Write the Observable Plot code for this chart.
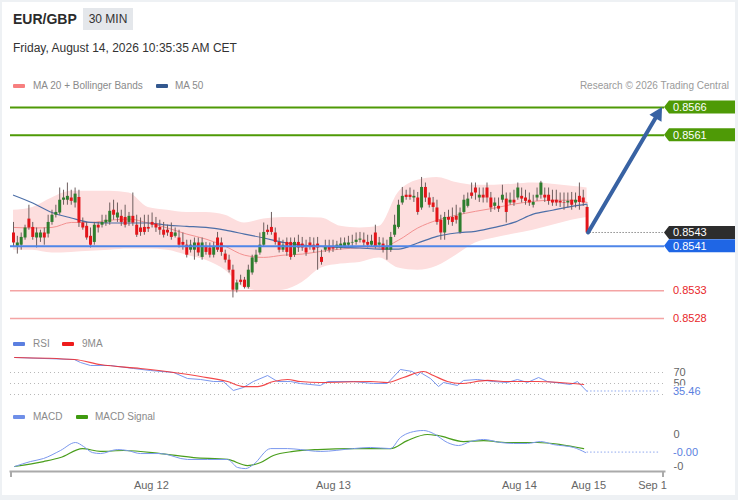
<!DOCTYPE html>
<html><head><meta charset="utf-8">
<script src="https://cdn.jsdelivr.net/npm/d3@7"></script>
<script src="https://cdn.jsdelivr.net/npm/@observablehq/plot@0.6"></script>
<style>
body{margin:0;background:#eef1f4;font-family:"Liberation Sans",Arial,sans-serif;}
#root{position:relative;width:738px;height:500px;overflow:hidden;background:#eef1f4;}
#panel{position:absolute;left:2px;top:2px;width:733px;height:493px;background:#fff;}
.abs{position:absolute;white-space:nowrap;}
.title{left:13px;top:10px;font-size:14px;font-weight:bold;color:#2b2b2b;line-height:18px;}
.tf{left:83px;top:8px;width:50px;height:22px;line-height:22px;text-align:center;background:#e4e7eb;font-size:12px;color:#333;}
.date{left:13px;top:40px;font-size:12px;color:#333;line-height:16px;}
.lg{font-size:10px;color:#8a8a8a;line-height:13px;}
.sw{position:absolute;width:12px;height:4px;border-radius:1px;}
.credit{right:9px;top:79px;font-size:10px;color:#9a9a9a;line-height:13px;}
.pane{position:absolute;left:0;}
</style></head>
<body>
<div id="root">
  <div id="panel"></div>
  <div class="abs title">EUR/GBP</div>
  <div class="abs tf">30 MIN</div>
  <div class="abs date">Friday, August 14, 2026 10:35:35 AM CET</div>
  <div class="sw" style="left:13px;top:84px;background:#f77f7f"></div>
  <div class="abs lg" style="left:33px;top:79px">MA 20 + Bollinger Bands</div>
  <div class="sw" style="left:156px;top:84px;background:#33588f"></div>
  <div class="abs lg" style="left:175px;top:79px">MA 50</div>
  <div class="abs credit">Research © 2026 Trading Central</div>
  <div id="main" class="pane" style="top:95px"></div>
  <div class="sw" style="left:13px;top:342px;background:#5b7fe0"></div>
  <div class="abs lg" style="left:33px;top:337px">RSI</div>
  <div class="sw" style="left:62px;top:342px;background:#ee1c1c"></div>
  <div class="abs lg" style="left:82px;top:337px">9MA</div>
  <div id="rsi" class="pane" style="top:350px"></div>
  <div class="sw" style="left:13px;top:415px;background:#6f8fe8"></div>
  <div class="abs lg" style="left:33px;top:410px">MACD</div>
  <div class="sw" style="left:76px;top:415px;background:#3f9a10"></div>
  <div class="abs lg" style="left:95px;top:410px">MACD Signal</div>
  <div id="macd" class="pane" style="top:423px"></div>
</div>
<script>
// ---------- data: 30-min candles (index 0..149) ----------
const open = [
0.85434,0.85410,0.85412,0.85425,0.85459,0.85444,0.85425,0.85425,0.85434,0.85432,
0.85453,0.85466,0.85470,0.85493,0.85493,0.85497,0.85488,0.85498,0.85452,0.85446,
0.85428,0.85417,0.85448,0.85448,0.85452,0.85453,0.85475,0.85461,0.85464,0.85462,
0.85453,0.85464,0.85448,0.85443,0.85444,0.85444,0.85453,0.85450,0.85444,0.85439,
0.85439,0.85435,0.85428,0.85425,0.85417,0.85412,0.85403,0.85403,0.85416,0.85390,
0.85408,0.85407,0.85394,0.85425,0.85416,0.85396,0.85385,0.85367,0.85331,0.85349,
0.85349,0.85336,0.85362,0.85381,0.85398,0.85412,0.85439,0.85444,0.85434,0.85417,
0.85403,0.85417,0.85417,0.85394,0.85417,0.85414,0.85407,0.85416,0.85412,0.85414,
0.85390,0.85403,0.85410,0.85410,0.85407,0.85407,0.85410,0.85412,0.85416,0.85417,
0.85421,0.85421,0.85417,0.85412,0.85434,0.85412,0.85414,0.85403,0.85403,0.85430,
0.85444,0.85488,0.85502,0.85502,0.85497,0.85497,0.85479,0.85516,0.85497,0.85488,
0.85479,0.85457,0.85434,0.85462,0.85462,0.85464,0.85435,0.85471,0.85482,0.85506,
0.85515,0.85497,0.85502,0.85515,0.85497,0.85482,0.85482,0.85493,0.85495,0.85488,
0.85493,0.85497,0.85500,0.85497,0.85493,0.85484,0.85497,0.85502,0.85502,0.85502,
0.85493,0.85493,0.85491,0.85489,0.85488,0.85493,0.85488,0.85500,0.85497,0.85480];
const close = [
0.85416,0.85416,0.85426,0.85443,0.85443,0.85426,0.85434,0.85434,0.85425,0.85453,
0.85466,0.85471,0.85493,0.85497,0.85500,0.85491,0.85504,0.85452,0.85443,0.85425,
0.85412,0.85448,0.85443,0.85453,0.85457,0.85473,0.85466,0.85470,0.85453,0.85448,
0.85464,0.85452,0.85430,0.85435,0.85435,0.85441,0.85448,0.85443,0.85439,0.85430,
0.85434,0.85426,0.85434,0.85412,0.85412,0.85394,0.85412,0.85416,0.85398,0.85416,
0.85399,0.85394,0.85408,0.85403,0.85399,0.85385,0.85367,0.85331,0.85344,0.85345,
0.85336,0.85367,0.85389,0.85394,0.85412,0.85435,0.85435,0.85435,0.85417,0.85403,
0.85412,0.85399,0.85390,0.85417,0.85407,0.85407,0.85398,0.85408,0.85403,0.85407,
0.85381,0.85410,0.85403,0.85405,0.85412,0.85414,0.85416,0.85416,0.85417,0.85421,
0.85423,0.85416,0.85412,0.85419,0.85408,0.85416,0.85403,0.85410,0.85426,0.85448,
0.85484,0.85500,0.85498,0.85498,0.85500,0.85471,0.85516,0.85497,0.85484,0.85480,
0.85453,0.85434,0.85462,0.85457,0.85453,0.85457,0.85470,0.85493,0.85495,0.85500,
0.85506,0.85502,0.85497,0.85497,0.85479,0.85488,0.85477,0.85502,0.85471,0.85493,
0.85488,0.85515,0.85495,0.85491,0.85488,0.85489,0.85502,0.85524,0.85497,0.85491,
0.85488,0.85488,0.85488,0.85488,0.85491,0.85484,0.85493,0.85489,0.85488,0.85434];
const high = [
0.85453,0.85428,0.85434,0.85448,0.85484,0.85453,0.85443,0.85439,0.85443,0.85466,
0.85475,0.85484,0.85515,0.85511,0.85524,0.85511,0.85515,0.85511,0.85461,0.85453,
0.85443,0.85453,0.85453,0.85466,0.85466,0.85488,0.85493,0.85488,0.85475,0.85484,
0.85471,0.85506,0.85466,0.85461,0.85466,0.85466,0.85470,0.85462,0.85457,0.85453,
0.85448,0.85452,0.85443,0.85439,0.85434,0.85421,0.85421,0.85425,0.85425,0.85425,
0.85417,0.85416,0.85417,0.85435,0.85425,0.85403,0.85394,0.85376,0.85349,0.85358,
0.85354,0.85376,0.85394,0.85403,0.85434,0.85452,0.85448,0.85471,0.85443,0.85425,
0.85421,0.85425,0.85425,0.85425,0.85430,0.85426,0.85421,0.85426,0.85425,0.85426,
0.85403,0.85421,0.85421,0.85421,0.85419,0.85425,0.85425,0.85428,0.85430,0.85434,
0.85435,0.85434,0.85430,0.85430,0.85448,0.85426,0.85425,0.85421,0.85435,0.85466,
0.85493,0.85516,0.85511,0.85515,0.85511,0.85507,0.85534,0.85524,0.85506,0.85498,
0.85493,0.85466,0.85471,0.85475,0.85479,0.85484,0.85479,0.85502,0.85506,0.85524,
0.85524,0.85515,0.85515,0.85524,0.85507,0.85497,0.85497,0.85520,0.85506,0.85506,
0.85511,0.85524,0.85515,0.85511,0.85506,0.85502,0.85515,0.85527,0.85515,0.85515,
0.85511,0.85511,0.85506,0.85506,0.85506,0.85507,0.85506,0.85524,0.85511,0.85484];
const low = [
0.85408,0.85396,0.85403,0.85421,0.85439,0.85421,0.85407,0.85417,0.85412,0.85425,
0.85448,0.85461,0.85466,0.85484,0.85484,0.85484,0.85479,0.85444,0.85439,0.85421,
0.85407,0.85412,0.85434,0.85443,0.85446,0.85448,0.85457,0.85453,0.85446,0.85443,
0.85446,0.85446,0.85426,0.85428,0.85430,0.85435,0.85443,0.85435,0.85430,0.85425,
0.85428,0.85421,0.85425,0.85407,0.85403,0.85389,0.85398,0.85385,0.85392,0.85385,
0.85394,0.85389,0.85389,0.85399,0.85392,0.85380,0.85362,0.85317,0.85326,0.85340,
0.85333,0.85333,0.85358,0.85378,0.85394,0.85408,0.85430,0.85430,0.85412,0.85398,
0.85399,0.85392,0.85385,0.85390,0.85399,0.85401,0.85392,0.85403,0.85398,0.85367,
0.85376,0.85399,0.85398,0.85399,0.85403,0.85403,0.85407,0.85408,0.85410,0.85412,
0.85416,0.85410,0.85407,0.85408,0.85405,0.85407,0.85398,0.85385,0.85399,0.85426,
0.85441,0.85484,0.85493,0.85493,0.85489,0.85466,0.85475,0.85489,0.85479,0.85471,
0.85448,0.85421,0.85421,0.85448,0.85446,0.85450,0.85432,0.85468,0.85479,0.85495,
0.85493,0.85489,0.85488,0.85488,0.85471,0.85475,0.85471,0.85488,0.85452,0.85484,
0.85482,0.85493,0.85488,0.85484,0.85482,0.85479,0.85491,0.85495,0.85489,0.85484,
0.85482,0.85482,0.85480,0.85475,0.85479,0.85475,0.85479,0.85475,0.85482,0.85432];

// moving averages and Bollinger bands, read at candle indices
const bandIdx = [0,5,10,15,20,25,30,35,40,45,50,55,60,65,70,75,80,85,90,95,100,105,110,115,120,125,130,135,140,145,149];
const ma20 = [0.85444,0.85443,0.85444,0.85453,0.85453,0.85457,0.85459,0.85452,0.85443,0.85432,0.85423,0.85410,0.85394,0.85390,0.85394,0.85396,0.85401,0.85405,0.85407,0.85407,0.85421,0.85443,0.85457,0.85466,0.85473,0.85479,0.85486,0.85491,0.85493,0.85493,0.85489];
const ma50 = [0.85502,0.85488,0.85471,0.85461,0.85453,0.85452,0.85452,0.85452,0.85448,0.85446,0.85444,0.85439,0.85432,0.85425,0.85417,0.85412,0.85410,0.85408,0.85407,0.85405,0.85405,0.85416,0.85428,0.85434,0.85437,0.85444,0.85453,0.85468,0.85475,0.85482,0.85486];
const bbUpper = [0.85475,0.85480,0.85497,0.85509,0.85509,0.85509,0.85506,0.85480,0.85475,0.85471,0.85471,0.85466,0.85452,0.85459,0.85462,0.85462,0.85461,0.85446,0.85443,0.85446,0.85507,0.85529,0.85534,0.85525,0.85520,0.85520,0.85522,0.85524,0.85522,0.85518,0.85515];
const bbLower = [0.85403,0.85403,0.85398,0.85399,0.85401,0.85403,0.85405,0.85405,0.85403,0.85394,0.85385,0.85367,0.85335,0.85329,0.85331,0.85345,0.85371,0.85378,0.85381,0.85389,0.85371,0.85367,0.85374,0.85394,0.85416,0.85425,0.85432,0.85439,0.85448,0.85457,0.85462];

// key levels
const resistance = [0.8566, 0.8561];
const pivot = 0.8541;
const support = [0.8533, 0.8528];
const arrowTarget = {i: 168.6, price: 0.8566};

// RSI (14) and its 9-period MA
const rsiX = [0.3,15.8,17.4,20,25.2,31.2,35.6,41.6,45.2,48.6,52,54.5,57.1,59.7,62.3,66,68.6,72,74.5,79.7,81.6,88.3,93.5,97.1,100.5,103.6,104.9,105.7,108.3,110.4,111.7,115.3,116.9,120.5,124.7,128.3,130.9,133.5,136.4,138.7,144.7,146.5,149];
const rsiV = [97.3,93.6,88.2,82.7,82.7,77.3,73.6,70,59.1,57.3,53.6,53.6,37.3,42.7,53.6,64.5,53.6,53.6,50,46.4,53.6,53.6,50,50,75.5,71.8,64.5,70,59.1,44.5,51.8,46.4,55.5,57.3,53.6,51.8,57.3,51.8,60.9,53.6,48.2,53.6,35.46];
const rsiMaX = [0.3,15.8,22.6,33,41.6,48.6,55.6,59.7,63.4,67.5,71.2,74.5,79.7,92.7,97.1,101.3,106.5,109.1,112.7,116.1,123.1,128.3,136.1,148.1];
const rsiMaV = [97.3,93.6,84.5,77.3,70,62.7,53.6,44.5,44.5,53.6,57.3,53.6,51.8,53.6,51.8,60.9,71.8,64.5,53.6,50,55.5,53.6,53.6,48.2];
const rsiLevels = [70, 50, 30];
const rsiLabels = [70, 50];

// MACD and signal
const macdX = [0.3,4.4,7.8,12.2,16.1,18.2,20.5,22.6,27,29.6,33,38.2,45.2,50.4,55.6,58.2,60.3,62.3,66.8,71.2,74.5,79.7,88.3,92.7,97.9,100.5,103.1,106.5,109.1,112.7,115.6,118.7,122.1,126.5,129.9,133.5,136.9,140.3,145.5,148.6];
const macdV = [-0.000200,-0.000169,-0.000150,-0.000100,-0.000050,-0.000075,-0.000113,-0.000119,-0.000094,-0.000100,-0.000119,-0.000119,-0.000156,-0.000156,-0.000156,-0.000206,-0.000213,-0.000188,-0.000088,-0.000088,-0.000094,-0.000106,-0.000088,-0.000081,-0.000088,-0.000019,0.000013,0.000025,0.000006,-0.000050,-0.000069,-0.000044,-0.000031,-0.000050,-0.000056,-0.000056,-0.000044,-0.000063,-0.000081,-0.000113];
const sigX = [0.3,7.8,12.2,17.9,22.6,28.6,38.2,46.8,55.6,60.8,64.2,67.5,72.7,79,88.3,97.9,102.3,107.5,110.1,116.9,122.1,128.3,136.1,142.1,148.1];
const sigV = [-0.000200,-0.000169,-0.000144,-0.000088,-0.000106,-0.000100,-0.000119,-0.000144,-0.000156,-0.000194,-0.000175,-0.000131,-0.000106,-0.000094,-0.000088,-0.000088,-0.000038,0,-0.000006,-0.000044,-0.000038,-0.000050,-0.000050,-0.000063,-0.000088];
const macdTicks = [0, -0.0002];

// time axis
const tickIdx = [35.8, 83.1, 131.4, 149.4, 166];
const tickLabels = ["Aug 12", "Aug 13", "Aug 14", "Aug 15", "Sep 1"];

// ---------- build ----------
const N = close.length;
const candles = d3.range(N).map(i => ({i, open: open[i], close: close[i], high: high[i], low: low[i]}));
const bands = bandIdx.map((i, k) => ({i, ma20: ma20[k], ma50: ma50[k], up: bbUpper[k], lo: bbLower[k]}));
const rsi = rsiX.map((x, k) => ({x, v: rsiV[k]}));
const rsiMa = rsiMaX.map((x, k) => ({x, v: rsiMaV[k]}));
const macd = macdX.map((x, k) => ({x, v: macdV[k]}));
const sig = sigX.map((x, k) => ({x, v: sigV[k]}));
const lastClose = close[N - 1];

const FONT = '"Liberation Sans", Arial, sans-serif';
const common = {
  width: 738, marginLeft: 10, marginRight: 74, marginTop: 0,
  style: {fontFamily: FONT, fontSize: "11px", color: "#666", background: "transparent", overflow: "visible"}
};
const xScale = {type: "linear", domain: [0, N - 1], range: [13, 586.6]};

const GREEN = "#4e9a06", BLUE = "#4f86e8", BLUEBOX = "#1f66e5", RED = "#e8262a";

function priceTags(index, scales, values, dims) {
  const g = d3.create("svg:g").attr("font-family", FONT).attr("font-size", 11).attr("text-anchor", "start");
  const xr = dims.width - dims.marginRight;
  const y = scales.y;
  // dotted line from last candle to the price tag
  const ly = y(lastClose);
  g.append("line").attr("x1", scales.x(N - 1) + 3).attr("x2", xr).attr("y1", ly).attr("y2", ly)
    .attr("stroke", "#555").attr("stroke-dasharray", "1,2");
  // forecast arrow
  const x0 = scales.x(N - 1) + 1.5, y0 = ly;
  const x1 = scales.x(arrowTarget.i), y1 = y(arrowTarget.price);
  const dx = x1 - x0, dy = y1 - y0, L = Math.hypot(dx, dy), ux = dx / L, uy = dy / L;
  const hl = 13, hw = 7;
  const bx = x1 - ux * hl, by = y1 - uy * hl;
  g.append("line").attr("x1", x0).attr("y1", y0).attr("x2", bx + ux).attr("y2", by + uy)
    .attr("stroke", "#3862a3").attr("stroke-width", 4).attr("stroke-linecap", "round");
  g.append("path").attr("d", `M${x1},${y1}L${bx - uy * hw},${by + ux * hw}L${bx + uy * hw},${by - ux * hw}Z`).attr("fill", "#3862a3");
  const tag = (v, box, fg) => {
    const ty = y(v);
    if (box) g.append("path").attr("d", `M${xr},${ty}L${xr + 5},${ty - 6.5}H${xr + 71}V${ty + 6.5}H${xr + 5}Z`).attr("fill", box);
    g.append("text").attr("x", xr + 9).attr("y", ty).attr("dy", "0.35em").attr("fill", fg).text(v.toFixed(4));
  };
  resistance.forEach(v => tag(v, GREEN, "#fff"));
  support.forEach(v => tag(v, null, RED));
  tag(pivot, BLUEBOX, "#fff");
  tag(lastClose, "#2d2d2d", "#fff");
  return g.node();
}

const mainPlot = Plot.plot({
  ...common, height: 240, marginBottom: 0,
  x: {...xScale, axis: null},
  y: {domain: [0.8528, 0.8566], range: [223, 12], axis: null},
  color: {type: "identity"},
  marks: [
    Plot.areaY(bands, {x: "i", y1: "lo", y2: "up", fill: "#fddede", curve: "monotone-x"}),
    Plot.lineY(bands, {x: "i", y: "ma20", stroke: "#f39191", strokeWidth: 1, curve: "monotone-x"}),
    Plot.lineY(bands, {x: "i", y: "ma50", stroke: "#4d6fa8", strokeWidth: 1.2, curve: "monotone-x"}),
    Plot.ruleY(support, {stroke: "#f4a4a4", strokeWidth: 1.5}),
    Plot.ruleY(resistance, {stroke: GREEN, strokeWidth: 2}),
    Plot.ruleX(candles, {x: "i", y1: "low", y2: "high", stroke: "#6e5e5e", strokeWidth: 1}),
    Plot.ruleX(candles, {x: "i", y1: "open", y2: "close", strokeWidth: 3,
      stroke: d => d.close > d.open ? "#2e7d2e" : "#e3151a"}),
    Plot.ruleY([pivot], {stroke: BLUE, strokeWidth: 2}),
    priceTags
  ]
});
document.getElementById("main").append(mainPlot);

function valueLabel(value, text, color) {
  return (index, scales, values, dims) => {
    const g = d3.create("svg:g").attr("font-family", FONT).attr("font-size", 11).attr("text-anchor", "start");
    const xr = dims.width - dims.marginRight;
    const yy = scales.y(value);
    g.append("line").attr("x1", scales.x(N - 1)).attr("x2", xr - 4).attr("y1", yy).attr("y2", yy)
      .attr("stroke", "#8fa8ee").attr("stroke-dasharray", "1.5,2");
    g.append("text").attr("x", xr + 9).attr("y", yy).attr("dy", "0.35em").attr("fill", color)
      .attr("stroke", "#fff").attr("stroke-width", 3).attr("paint-order", "stroke").text(text);
    return g.node();
  };
}

const rsiPlot = Plot.plot({
  ...common, height: 55, marginBottom: 0,
  x: {...xScale, axis: null},
  y: {domain: [0, 100], range: [60.5, 5.5]},
  marks: [
    Plot.ruleY(rsiLevels, {stroke: "#b8b8b8", strokeDasharray: "1,3"}),
    Plot.axisY(rsiLabels, {anchor: "right", tickSize: 0, tickPadding: 9, label: null, tickFormat: d => String(d), fill: "#666"}),
    Plot.lineY(rsi, {x: "x", y: "v", stroke: "#7b98ee", strokeWidth: 1}),
    Plot.lineY(rsiMa, {x: "x", y: "v", stroke: "#f0282a", strokeWidth: 1.2, strokeOpacity: 0.85, curve: "monotone-x"}),
    valueLabel(rsiV[rsiV.length - 1], rsiV[rsiV.length - 1].toFixed(2), "#5b7fe0")
  ]
});
document.getElementById("rsi").append(rsiPlot);

function endTicks(index, scales, values, dims) {
  const g = d3.create("svg:g").attr("stroke", "#aaa").attr("stroke-width", 2);
  const yb = dims.height - dims.marginBottom;
  [dims.marginLeft + 1, dims.width - dims.marginRight - 1].forEach(x =>
    g.append("line").attr("x1", x).attr("x2", x).attr("y1", yb).attr("y2", yb + 6));
  return g.node();
}

const macdPlot = Plot.plot({
  ...common, height: 77, marginBottom: 29,
  x: {...xScale},
  y: {domain: [-0.0002, 0], range: [43, 11]},
  marks: [
    Plot.frame({anchor: "bottom", stroke: "#aaa", strokeWidth: 2}),
    endTicks,
    Plot.axisX(tickIdx, {tickSize: 0, tickPadding: 10, label: null, fill: "#666",
      tickFormat: d => tickLabels[tickIdx.indexOf(d)]}),
    Plot.axisY(macdTicks, {anchor: "right", tickSize: 0, tickPadding: 9, label: null, fill: "#666",
      tickFormat: d => (d < 0 ? "-" : "") + Math.abs(d).toFixed(0)}),
    Plot.lineY(sig, {x: "x", y: "v", stroke: "#4a9e1c", strokeWidth: 1.2, curve: "monotone-x"}),
    Plot.lineY(macd, {x: "x", y: "v", stroke: "#7b98ee", strokeWidth: 1, curve: "monotone-x"}),
    valueLabel(macdV[macdV.length - 1], macdV[macdV.length - 1].toFixed(2), "#5b7fe0")
  ]
});
document.getElementById("macd").append(macdPlot);
</script>
</body></html>
